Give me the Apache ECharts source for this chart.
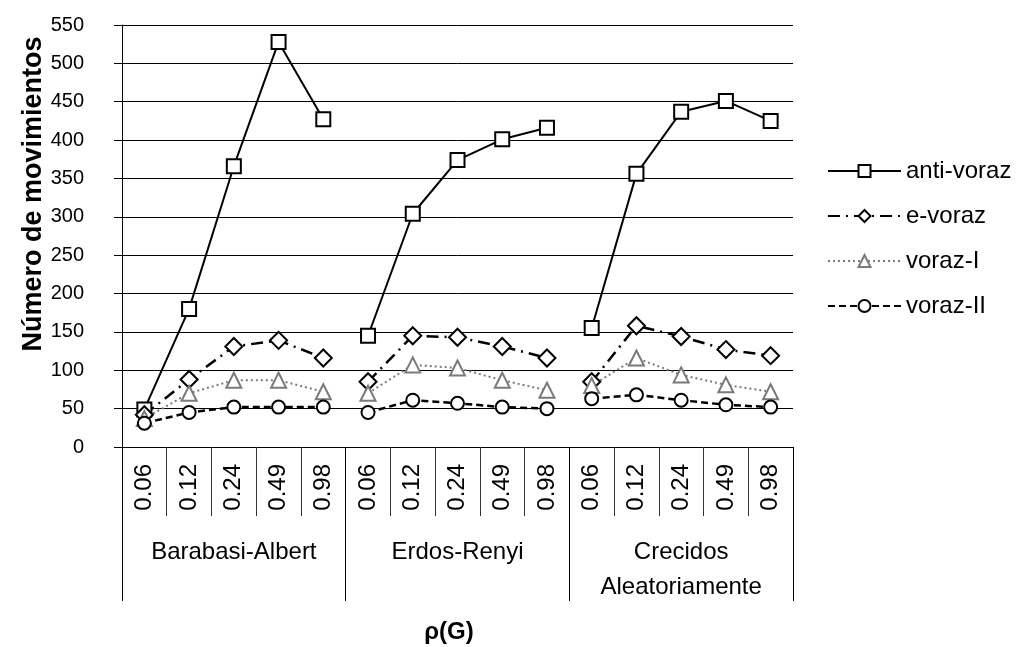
<!DOCTYPE html>
<html>
<head>
<meta charset="utf-8">
<script src="https://cdn.jsdelivr.net/npm/echarts@6/dist/echarts.min.js"></script>
<style>
html,body{margin:0;padding:0;background:#fff;}
#chart{width:1021px;height:647px;}
</style>
</head>
<body>
<div id="chart"></div>
<script>
// ---- data ----
var groups = ['Barabasi-Albert', 'Erdos-Renyi', 'Crecidos\nAleatoriamente'];
var densities = ['0.06', '0.12', '0.24', '0.49', '0.98'];
var categories = [].concat(densities, densities, densities);
var antiVoraz = [49, 180, 366, 528, 427, 145, 304, 374, 401, 416, 155, 356, 437, 451, 425];
var eVoraz    = [42, 88, 131, 139, 116, 85, 145, 143, 131, 116, 85, 158, 144, 127, 119];
var vorazI    = [37, 70, 87, 87, 72, 70, 107, 103, 87, 74, 80, 116, 94, 81, 72];
var vorazII   = [31, 45, 52, 52, 52, 45, 61, 57, 52, 50, 63, 68, 61, 55, 52];
var yTicks = { min: 0, max: 550, interval: 50 };

var FONT = 'Liberation Sans';
var chart = echarts.init(document.getElementById('chart'), null, {renderer: 'canvas'});

var seriesDefs = [
  {name: 'anti-voraz', data: antiVoraz, symbol: 'emptyRect', symbolSize: 14,
   lineStyle: {color: '#000', width: 2, type: 'solid'},
   itemStyle: {color: '#000', borderWidth: 1.8}},
  {name: 'e-voraz', data: eVoraz, symbol: 'emptyDiamond', symbolSize: 17,
   lineStyle: {color: '#000', width: 2.5, type: [12, 6, 2, 6]},
   itemStyle: {color: '#000', borderWidth: 2}},
  {name: 'voraz-I', data: vorazI, symbol: 'emptyTriangle', symbolSize: 15,
   lineStyle: {color: '#7a7a7a', width: 2, type: [2, 3]},
   itemStyle: {color: '#7a7a7a', borderWidth: 1.5}},
  {name: 'voraz-II', data: vorazII, symbol: 'emptyCircle', symbolSize: 13,
   lineStyle: {color: '#000', width: 2.5, type: [7, 4]},
   itemStyle: {color: '#000', borderWidth: 2}}
];

var series = [];
seriesDefs.forEach(function (d) {
  for (var g = 0; g < groups.length; g++) {
    var arr = d.data.map(function (v, i) {
      return (i >= g * 5 && i < g * 5 + 5) ? v : null;
    });
    series.push({
      name: d.name, type: 'line', data: arr,
      xAxisIndex: 0, yAxisIndex: 0,
      symbol: d.symbol, symbolSize: d.symbolSize,
      showAllSymbol: true, connectNulls: false,
      lineStyle: d.lineStyle, itemStyle: d.itemStyle,
      emphasis: {disabled: true}, animation: false
    });
  }
});

var option = {
  animation: false,
  textStyle: {fontFamily: FONT},
  grid: {left: 122, right: 228, top: 25, bottom: 200, containLabel: false},
  legend: {
    orient: 'vertical', left: 827, top: 159, padding: 0,
    itemWidth: 73, itemHeight: 15, itemGap: 21,
    data: seriesDefs.map(function (d) { return d.name; }),
    textStyle: {fontFamily: FONT, fontSize: 24, color: '#000'}
  },
  xAxis: [
    {
      type: 'category', data: categories, position: 'bottom', boundaryGap: true,
      axisLine: {show: true, lineStyle: {color: '#000', width: 1}},
      axisTick: {show: true, interval: 0, length: 69, lineStyle: {color: '#333', width: 1}},
      axisLabel: {interval: 0, rotate: 90, margin: 17, fontSize: 24, color: '#000', fontFamily: FONT},
      splitLine: {show: false}
    },
    {
      type: 'category', data: groups, position: 'bottom', boundaryGap: true, gridIndex: 0,
      axisLine: {show: false},
      axisTick: {show: true, interval: 0, length: 154, lineStyle: {color: '#000', width: 1}},
      axisLabel: {interval: 0, margin: 88, fontSize: 24, lineHeight: 35, color: '#000', fontFamily: FONT},
      splitLine: {show: false}
    }
  ],
  yAxis: {
    type: 'value', min: yTicks.min, max: yTicks.max, interval: yTicks.interval,
    axisLine: {show: true, lineStyle: {color: '#000', width: 1}},
    axisTick: {show: true, length: 8, lineStyle: {color: '#000'}},
    axisLabel: {margin: 38, fontSize: 20, color: '#000', fontFamily: FONT},
    splitLine: {show: true, lineStyle: {color: '#000', width: 1}}
  },
  graphic: [
    {type: 'text', x: 34, y: 194, rotation: Math.PI / 2,
     style: {text: 'Número de movimientos', fontSize: 27, fontWeight: 'bold', fontFamily: FONT,
             fill: '#000', textAlign: 'center', textVerticalAlign: 'middle'}},
    {type: 'text', x: 449, y: 632,
     style: {text: 'ρ(G)', fontSize: 24, fontWeight: 'bold', fontFamily: FONT,
             fill: '#000', textAlign: 'center', textVerticalAlign: 'middle'}}
  ],
  series: series
};
chart.setOption(option);
</script>
</body>
</html>
